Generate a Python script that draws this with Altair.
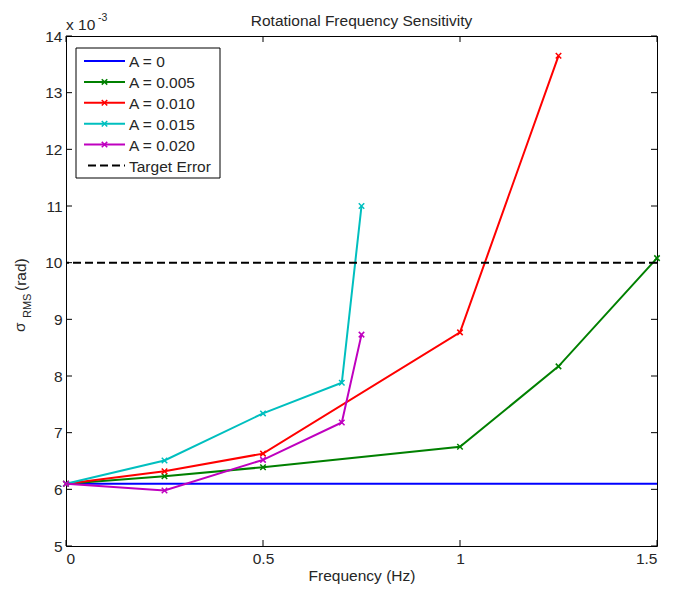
import altair as alt
import pandas as pd

# ---- data (sigma_RMS in units of 1e-3 rad) ----
freq_a0 = [0, 0.25, 0.5, 0.75, 1.0, 1.25, 1.5]
sig_a0 = [6.1, 6.1, 6.1, 6.1, 6.1, 6.1, 6.1]
freq_a005 = [0, 0.25, 0.5, 1.0, 1.25, 1.5]
sig_a005 = [6.1, 6.23, 6.39, 6.75, 8.17, 10.08]
freq_a010 = [0, 0.25, 0.5, 1.0, 1.25]
sig_a010 = [6.1, 6.32, 6.63, 8.77, 13.65]
freq_a015 = [0, 0.25, 0.5, 0.7, 0.75]
sig_a015 = [6.1, 6.51, 7.34, 7.88, 11.0]
freq_a020 = [0, 0.25, 0.5, 0.7, 0.75]
sig_a020 = [6.1, 5.98, 6.52, 7.18, 8.73]
target_error = [10.0]

series_labels = ["A = 0", "A = 0.005", "A = 0.010", "A = 0.015", "A = 0.020"]
series_colors = ["#0000FF", "#008000", "#FF0000", "#00BFBF", "#BF00BF"]
legend_labels = series_labels + ["Target Error"]
legend_colors = series_colors + ["#000000"]

x_ticks = [0, 0.5, 1, 1.5]
y_ticks = [5, 6, 7, 8, 9, 10, 11, 12, 13, 14]

W, H = 591, 510
FONT = "Liberation Sans"
TXT = "#262626"
FS = 15.5
XMARK = "M-1,-1L1,1M-1,1L1,-1"

rows = []
for lab, fr, sg in zip(series_labels,
                       [freq_a0, freq_a005, freq_a010, freq_a015, freq_a020],
                       [sig_a0, sig_a005, sig_a010, sig_a015, sig_a020]):
    for f, s in zip(fr, sg):
        rows.append({"series": lab, "freq": f, "sigma": s})
df = pd.DataFrame(rows)

xscale = alt.Scale(domain=[0, 1.5], nice=False, zero=False)
yscale = alt.Scale(domain=[5, 14], nice=False, zero=False)
cscale = alt.Scale(domain=series_labels, range=series_colors)

xenc = alt.X("freq:Q", scale=xscale,
             axis=alt.Axis(values=x_ticks, format="~g", ticks=False, domain=False,
                           grid=False, labelPadding=5, title="Frequency (Hz)",
                           titlePadding=2, titleFontWeight="normal"))
yenc = alt.Y("sigma:Q", scale=yscale,
             axis=alt.Axis(values=y_ticks, format="d", ticks=False, domain=False,
                           grid=False, labelPadding=4, title=None))

lines = alt.Chart(df).mark_line(strokeWidth=2).encode(
    x=xenc, y=yenc,
    color=alt.Color("series:N", scale=cscale, legend=None),
    order=alt.Order("freq:Q"),
)

markers = alt.Chart(df[df["series"] != "A = 0"]).mark_point(
    shape=XMARK, size=30, filled=False, strokeWidth=1.5, opacity=1
).encode(
    x=alt.X("freq:Q", scale=xscale),
    y=alt.Y("sigma:Q", scale=yscale),
    color=alt.Color("series:N", scale=cscale, legend=None),
)

target = alt.Chart(pd.DataFrame({"sigma": target_error})).mark_rule(
    color="black", strokeWidth=2, strokeDash=[8, 4]
).encode(y=alt.Y("sigma:Q", scale=yscale))

# inward ticks on all four sides
TL = 6
xt = pd.DataFrame({"freq": x_ticks})
yt = pd.DataFrame({"sigma": y_ticks})
tick_bottom = alt.Chart(xt).mark_rule(color="black", strokeWidth=1).encode(
    x=alt.X("freq:Q", scale=xscale), y=alt.value(H - TL), y2=alt.value(H))
tick_top = alt.Chart(xt).mark_rule(color="black", strokeWidth=1).encode(
    x=alt.X("freq:Q", scale=xscale), y=alt.value(0), y2=alt.value(TL))
tick_left = alt.Chart(yt).mark_rule(color="black", strokeWidth=1).encode(
    y=alt.Y("sigma:Q", scale=yscale), x=alt.value(0), x2=alt.value(TL))
tick_right = alt.Chart(yt).mark_rule(color="black", strokeWidth=1).encode(
    y=alt.Y("sigma:Q", scale=yscale), x=alt.value(W - TL), x2=alt.value(W))

one = pd.DataFrame({"a": [0]})

# legend box
legend_layers = [
    alt.Chart(one).mark_rect(fill="white", stroke="black", strokeWidth=1).encode(
        x=alt.value(10), x2=alt.value(154), y=alt.value(12), y2=alt.value(142))
]
for i, (lab, col) in enumerate(zip(legend_labels, legend_colors)):
    yy = 25 + 20.9 * i
    if lab == "Target Error":
        legend_layers.append(alt.Chart(one).mark_rule(
            color=col, strokeWidth=2, strokeDash=[8, 4]).encode(
            x=alt.value(22), x2=alt.value(59), y=alt.value(yy)))
    else:
        legend_layers.append(alt.Chart(one).mark_rule(
            color=col, strokeWidth=2).encode(
            x=alt.value(18), x2=alt.value(59), y=alt.value(yy)))
        if lab != "A = 0":
            legend_layers.append(alt.Chart(one).mark_point(
                shape=XMARK, size=30, filled=False, strokeWidth=1.5, color=col,
                opacity=1).encode(x=alt.value(38.5), y=alt.value(yy)))
    legend_layers.append(alt.Chart(one).mark_text(
        align="left", baseline="middle", font=FONT, fontSize=FS, color=TXT).encode(
        x=alt.value(63), y=alt.value(yy + 1), text=alt.value(lab)))

# title, y-axis title sigma_RMS (rad), and the x 10^-3 exponent
def txt(s, x, y, size=FS, angle=0, align="left", baseline="alphabetic"):
    kw = dict(align=align, baseline=baseline, font=FONT, fontSize=size, color=TXT)
    if angle:
        kw["angle"] = angle
    return alt.Chart(one).mark_text(**kw).encode(
        x=alt.value(x), y=alt.value(y), text=alt.value(s))

annots = [
    txt("Rotational Frequency Sensitivity", W / 2, -10, align="center"),
    txt("\u03c3", -41, 296, angle=270),
    txt("RMS", -35, 282, size=11, angle=270),
    txt("(rad)", -40, 255, angle=270),
    txt("x 10", 0, -6),
    txt("-3", 32, -15, size=10.5),
]

chart = alt.layer(
    lines, markers, target,
    tick_bottom, tick_top, tick_left, tick_right,
    *legend_layers, *annots
).properties(
    width=W, height=H,
    autosize=alt.AutoSizeParams(type="none"),
    padding={"left": 58, "top": 28, "right": 10, "bottom": 38},
).configure_view(
    stroke="black", strokeWidth=1
).configure_axis(
    labelFont=FONT, labelFontSize=FS, labelColor=TXT,
    titleFont=FONT, titleFontSize=FS, titleColor=TXT,
)

chart.save("out.html", embed_options={"renderer": "svg", "actions": False})
